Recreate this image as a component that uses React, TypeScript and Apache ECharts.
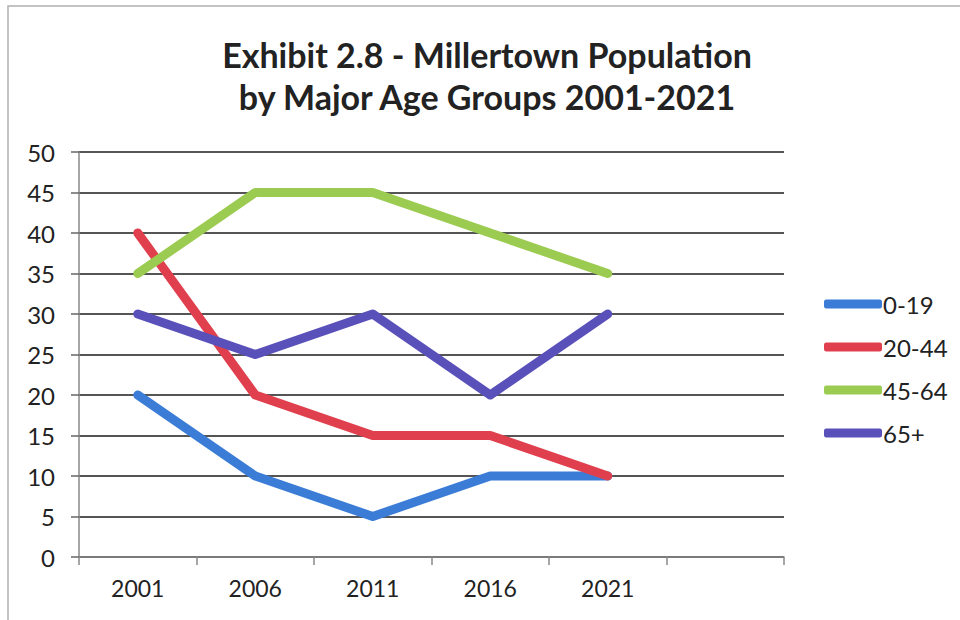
import React, { useEffect, useRef } from "react";
import * as echarts from "echarts";

const years = ["2001", "2006", "2011", "2016", "2021", ""];
const seriesNames = ["0-19", "20-44", "45-64", "65+"];
const age0to19 = [20, 10, 5, 10, 10, null];
const age20to44 = [40, 20, 15, 15, 10, null];
const age45to64 = [35, 45, 45, 40, 35, null];
const age65plus = [30, 25, 30, 20, 30, null];
const colors = ["#3B7DD6", "#E0404E", "#9CCB52", "#5A50BA"];

const FONT = "Lato, 'Open Sans', sans-serif";

export default function App() {
  const ref = useRef<HTMLDivElement>(null);
  useEffect(() => {
    document.body.style.margin = "0";
    const chart = echarts.init(ref.current!, null, { renderer: "svg" });
    const values = [age0to19, age20to44, age45to64, age65plus];
    chart.setOption({
      animation: false,
      backgroundColor: "#ffffff",
      textStyle: { fontFamily: FONT },
      grid: { left: 79, top: 152, width: 705, height: 405, containLabel: false },
      graphic: [
        {
          type: "polyline",
          shape: { points: [[8, 620], [8, 6], [960, 6]] },
          style: { stroke: "#b0b0b0", lineWidth: 1.5, fill: "none" },
        },
        {
          type: "text",
          x: 487,
          y: 33,
          style: {
            text: "Exhibit 2.8 - Millertown Population\nby Major Age Groups 2001-2021",
            align: "center",
            verticalAlign: "top",
            font: "bold 34px " + FONT,
            lineHeight: 42,
            fill: "#222222",
          },
        },
      ],
      legend: {
        orient: "vertical",
        left: 819,
        top: 287,
        itemWidth: 58,
        itemHeight: 9,
        itemGap: 19,
        icon: "roundRect",
        data: seriesNames,
        textStyle: { fontSize: 24, color: "#222", fontFamily: FONT, padding: [0, 0, 0, -4] },
      },
      xAxis: {
        type: "category",
        data: years,
        boundaryGap: true,
        axisLine: { show: true, lineStyle: { color: "#888", width: 1.5 } },
        axisTick: { show: true, length: 8, lineStyle: { color: "#888", width: 1.5 } },
        axisLabel: { fontSize: 23, color: "#222", margin: 19, fontFamily: FONT },
        splitLine: { show: false },
      },
      yAxis: {
        type: "value",
        min: 0,
        max: 50,
        interval: 5,
        axisLine: { show: true, lineStyle: { color: "#888", width: 1.5 } },
        axisTick: { show: true, length: 8, lineStyle: { color: "#666", width: 1.5 } },
        axisLabel: { fontSize: 24, color: "#222", margin: 24, fontFamily: FONT },
        splitLine: { show: true, lineStyle: { color: "#555", width: 1.8 } },
      },
      series: seriesNames.map((name, i) => ({
        name,
        type: "line",
        data: values[i],
        symbol: "none",
        color: colors[i],
        lineStyle: { width: 9, color: colors[i], cap: "round", join: "round" },
        itemStyle: { color: colors[i] },
      })),
    });
    return () => chart.dispose();
  }, []);
  return <div ref={ref} style={{ width: 960, height: 620 }} />;
}
